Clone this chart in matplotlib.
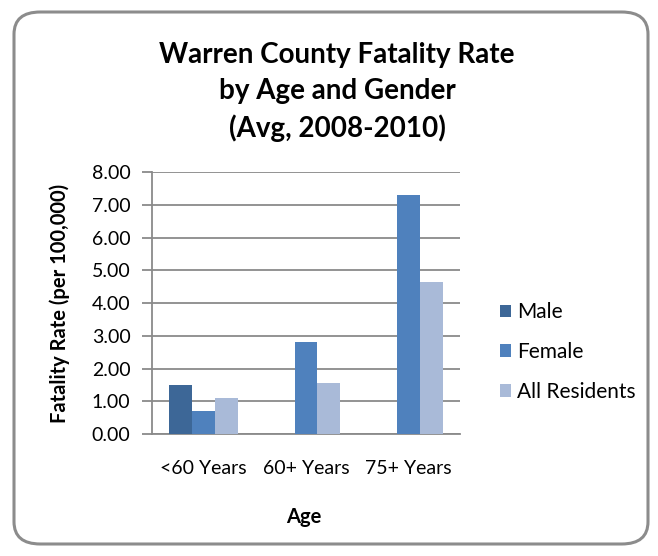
import numpy as np
import matplotlib.pyplot as plt
from matplotlib.patches import FancyBboxPatch

plt.rcParams['font.family'] = ['Lato', 'DejaVu Sans']

categories = ['<60 Years', '60+ Years', '75+ Years']
male = [1.49, 0.0, 0.0]
female = [0.69, 2.82, 7.29]
all_residents = [1.10, 1.56, 4.65]
y_ticks = [0, 1, 2, 3, 4, 5, 6, 7, 8]

colors = {'Male': '#3D6797', 'Female': '#4F81BD', 'All Residents': '#A9BAD8'}

W, H = 658, 556
fig = plt.figure(figsize=(W / 100, H / 100), dpi=100)

# rounded chart border, kept behind the axes
border = FancyBboxPatch((14 / W, 12 / H), 634 / W, 532 / H,
                        boxstyle='round,pad=0,rounding_size=0.04',
                        transform=fig.transFigure, facecolor='white',
                        edgecolor='#8c8c8c', linewidth=2.2, zorder=-10)
fig.patches.append(border)

ax = fig.add_axes([152 / W, 1 - 434 / H, 308 / W, 262 / H])
ax.set_facecolor('none')

x = np.arange(len(categories))
w = 0.224
ax.bar(x - w, male, w, color=colors['Male'], label='Male', zorder=3)
ax.bar(x, female, w, color=colors['Female'], label='Female', zorder=3)
ax.bar(x + w, all_residents, w, color=colors['All Residents'], label='All Residents', zorder=3)

ax.set_xlim(-0.5, 2.5)
ax.set_ylim(0, 8)
ax.set_yticks(y_ticks)
ax.set_yticklabels([f'{v:.2f}' for v in y_ticks], fontsize=14)
ax.set_xticks(x)
ax.set_xticklabels(categories, fontsize=14)
ax.yaxis.grid(True, color='#8a8a8a', linewidth=1.3, zorder=0)
ax.set_axisbelow(True)
for s in ['top', 'right']:
    ax.spines[s].set_visible(False)
for s in ['left', 'bottom']:
    ax.spines[s].set_color('#8a8a8a')
    ax.spines[s].set_linewidth(1.3)
ax.tick_params(axis='y', length=7.5, color='#8a8a8a', width=1.3, pad=8)
ax.tick_params(axis='x', length=0, pad=19)

fig.text(304 / W, 1 - 517 / H, 'Age', ha='center', va='center',
         fontsize=14.5, fontweight='bold')
fig.text(60 / W, 1 - 303 / H, 'Fatality Rate (per 100,000)', rotation=90,
         ha='center', va='center', fontsize=14.5, fontweight='bold')

fig.text(337 / W, 1 - 92 / H,
         'Warren County Fatality Rate\nby Age and Gender\n(Avg, 2008-2010)',
         ha='center', va='center', fontsize=20, fontweight='bold',
         linespacing=1.45)

ax.legend(loc='center left', bbox_to_anchor=(500 / W, 1 - 352 / H),
          bbox_transform=fig.transFigure, frameon=False, fontsize=15,
          labelspacing=0.95, handlelength=0.55, handleheight=0.55,
          handletextpad=0.25, borderpad=0, borderaxespad=0)

fig.savefig('out.png', dpi=100)
